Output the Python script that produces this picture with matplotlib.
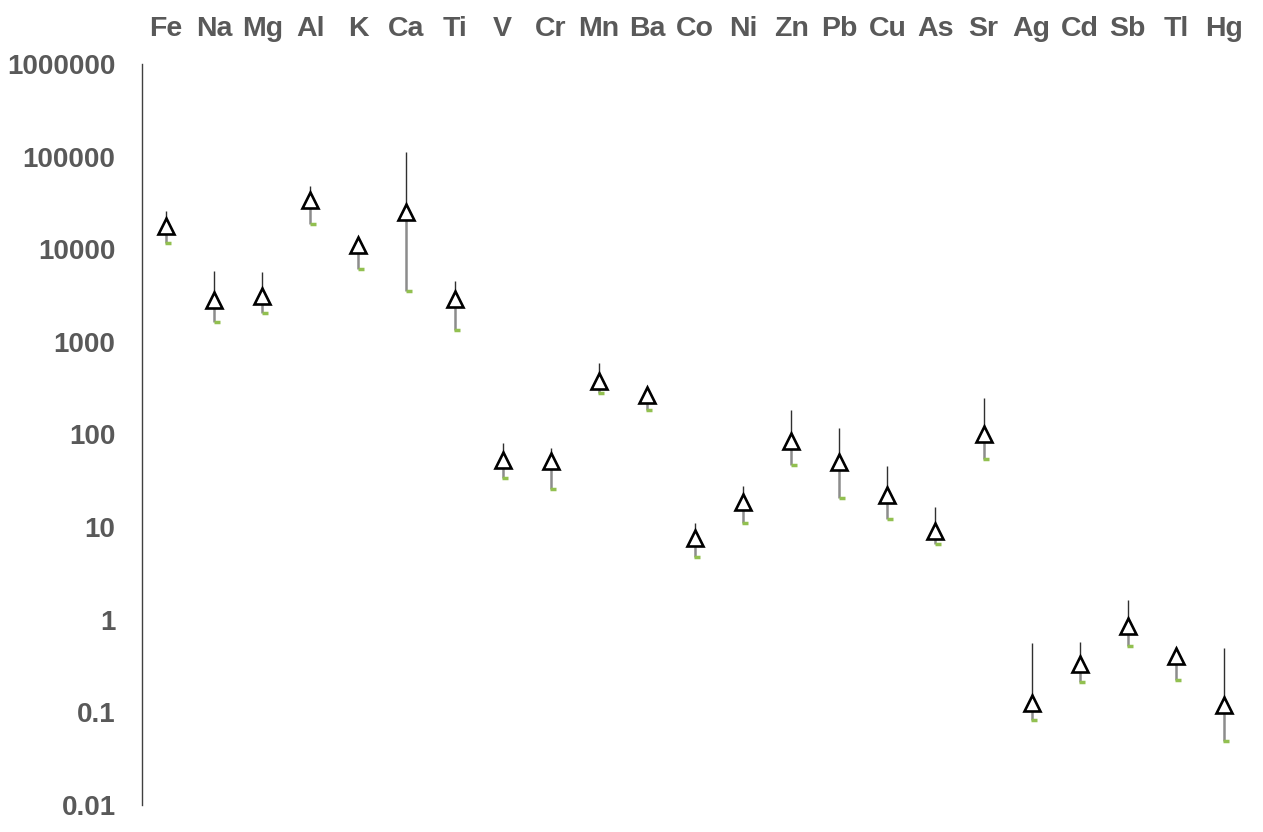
import matplotlib.pyplot as plt
import numpy as np

elements = ['Fe', 'Na', 'Mg', 'Al', 'K', 'Ca', 'Ti', 'V', 'Cr', 'Mn', 'Ba', 'Co',
            'Ni', 'Zn', 'Pb', 'Cu', 'As', 'Sr', 'Ag', 'Cd', 'Sb', 'Tl', 'Hg']
# median / upper / lower values
median = [17900, 2800, 3100, 33800, 11200, 25000, 2880, 52.7, 52, 380, 268, 7.7,
          18.7, 86, 50.8, 22, 9.06, 102, 0.127, 0.333, 0.851, 0.403, 0.120]
upper = [26000, 5800, 5650, 48500, 11500, 111000, 4520, 80.7, 71, 596, 275, 11.2,
         27.5, 184, 117, 45.4, 16.3, 248, 0.557, 0.571, 1.63, 0.505, 0.492]
lower = [11700, 1620, 2030, 18800, 6100, 3500, 1330, 33.6, 25.5, 281, 184, 4.8,
         11.2, 46.5, 20.4, 12.1, 6.6, 54, 0.083, 0.215, 0.516, 0.226, 0.0493]

plt.rcParams['font.family'] = ['Liberation Sans', 'DejaVu Sans']
txt = '#595959'

fig = plt.figure(figsize=(12.63, 8.32), dpi=100)
ax = fig.add_axes([142 / 1263, 1 - 805 / 832, 1106 / 1263, 741 / 832])

x = np.arange(len(elements))
ax.vlines(x, median, upper, color='#303030', lw=1.0, zorder=2)
ax.vlines(x, lower, median, color='#8c8c8c', lw=1.8, zorder=2)
ax.plot(x + 0.05, lower, ls='none', marker='_', ms=4, mew=2.5, color='#92c050', zorder=3)
ax.plot(x, median, ls='none', marker='^', ms=12, mfc='white', mec='black', mew=1.9, zorder=4)

ax.set_yscale('log')
ax.set_ylim(0.01, 1e6)
ax.set_xlim(-0.5, len(elements) - 0.5)
ax.set_yticks([10.0 ** k for k in range(-2, 7)])
ax.set_yticklabels(['0.01', '0.1', '1', '10', '100', '1000', '10000', '100000', '1000000'])
ax.yaxis.set_minor_locator(plt.NullLocator())

ax.xaxis.tick_top()
ax.set_xticks(x)
ax.set_xticklabels(elements)
ax.tick_params(axis='x', length=0, pad=16, labelsize=20.5, labelcolor=txt)
ax.tick_params(axis='y', length=0, pad=19, labelsize=20, labelcolor=txt)
for lab in ax.get_xticklabels() + ax.get_yticklabels():
    lab.set_fontweight('bold')

for s in ['top', 'right', 'bottom']:
    ax.spines[s].set_visible(False)
ax.spines['left'].set_color('#404040')
ax.spines['left'].set_linewidth(1.0)

fig.savefig('out.png', dpi=100)
